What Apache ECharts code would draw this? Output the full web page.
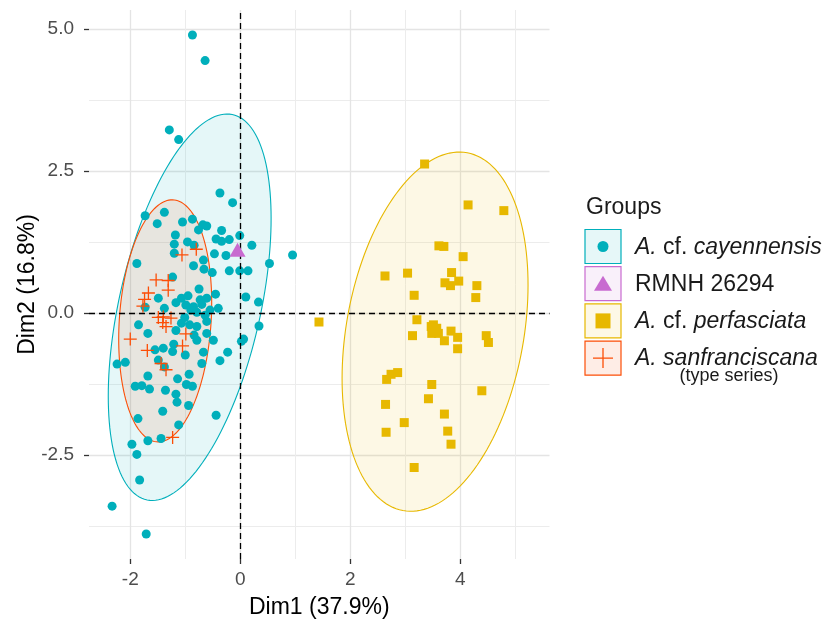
<!DOCTYPE html>
<html><head><meta charset="utf-8">
<script src="https://cdn.jsdelivr.net/npm/echarts@6/dist/echarts.min.js"></script>
<style>html,body{margin:0;padding:0;background:#fff}#chart{width:832px;height:624px}</style>
</head><body><div id="chart"></div>
<script>
// ---------- data ----------
const groupNames = ['A. cf. cayennensis', 'RMNH 26294', 'A. cf. perfasciata', 'A. sanfranciscana'];
const groupLabelsRich = ['{i|A.} cf. {i|cayennensis}', 'RMNH 26294', '{i|A.} cf. {i|perfasciata}', '{i|A. sanfranciscana}'];
const groupColors = ['#00AFBB', '#C86BD0', '#E7B800', '#FC4E07'];
const groupFills = ['#E6F7F8', '#F9F0FA', '#FDF8E6', '#FEEDE6'];

const cayennensis = [
  [-0.87,4.89],[-0.64,4.44],[-1.29,3.22],[-1.12,3.05],[-0.37,2.11],[-0.14,1.94],[-1.73,1.71],[-1.38,1.77],
  [-1.51,1.57],[-1.05,1.60],[-0.87,1.65],[-0.68,1.55],[-0.61,1.53],[-0.34,1.45],[-0.76,1.46],[-1.18,1.37],
  [-0.44,1.30],[-0.34,1.26],[-0.20,1.29],[-0.01,1.36],[-0.96,1.25],[-0.84,1.19],[-1.20,1.21],[0.21,1.19],
  [0.95,1.02],[-0.47,1.04],[-0.26,1.01],[0.53,0.87],[-1.20,1.05],[-1.88,0.87],[-0.85,0.83],[-0.67,0.93],
  [-0.66,0.77],[-0.20,0.74],[-0.01,0.74],[0.14,0.74],[-1.23,0.63],[-0.51,0.71],[-0.75,0.42],[0.10,0.28],
  [0.33,0.19],[-1.49,0.26],[-1.17,0.18],[-1.07,0.26],[-0.99,0.14],[-0.85,0.11],[-0.73,0.23],[-0.61,0.26],
  [-0.45,0.33],[-0.90,0.05],[-0.79,0.01],[-0.64,-0.04],[-0.40,0.08],[-1.38,0.08],[-1.73,0.10],[-1.01,-0.08],
  [-1.07,-0.18],[-0.92,-0.21],[-0.79,-0.24],[-0.61,-0.15],[-1.85,-0.21],[-1.68,-0.36],[-1.17,-0.31],[-0.84,-0.39],
  [-0.61,-0.36],[-0.49,-0.48],[0.02,-0.50],[0.06,-0.46],[0.34,-0.23],[-0.79,-0.48],[-1.21,-0.55],[-1.40,-0.62],
  [-1.55,-0.65],[-1.23,-0.68],[-1.00,-0.74],[-0.67,-0.69],[-0.23,-0.69],[-0.37,-0.84],[-2.24,-0.90],[-2.09,-0.87],
  [-1.49,-0.83],[-1.38,-0.95],[-0.70,-0.89],[-1.68,-1.11],[-1.14,-1.16],[-0.93,-1.08],[-1.91,-1.29],[-1.79,-1.28],
  [-1.65,-1.34],[-1.36,-1.36],[-0.98,-1.26],[-0.87,-1.29],[-1.17,-1.43],[-1.15,-1.57],[-0.94,-1.63],[-1.41,-1.73],
  [-0.44,-1.80],[-1.86,-1.86],[-1.12,-1.97],[-1.68,-2.25],[-1.44,-2.21],[-1.97,-2.31],[-1.88,-2.49],[-1.83,-2.94],
  [-2.33,-3.40],[-1.71,-3.89],[-0.70,0.15],[-0.55,0.05],[-0.95,0.30]
];
const rmnh = [[-0.05,1.11]];
const perfasciata = [
  [3.35,2.62],[4.14,1.90],[4.79,1.80],[3.61,1.18],[3.70,1.17],[4.05,0.99],[2.63,0.65],[3.04,0.70],
  [3.84,0.71],[3.72,0.53],[3.82,0.48],[3.97,0.56],[4.30,0.48],[3.16,0.31],[4.28,0.27],[1.43,-0.16],
  [3.21,-0.12],[3.13,-0.40],[3.47,-0.24],[3.51,-0.21],[3.57,-0.27],[3.48,-0.36],[3.60,-0.36],[3.55,-0.30],
  [3.83,-0.32],[3.95,-0.43],[3.71,-0.49],[3.95,-0.63],[4.47,-0.40],[4.51,-0.52],[2.66,-1.17],[2.74,-1.08],
  [2.86,-1.05],[3.48,-1.26],[4.39,-1.37],[2.64,-1.61],[3.42,-1.51],[2.98,-1.93],[3.71,-1.78],[2.65,-2.10],
  [3.77,-2.08],[3.83,-2.31],[3.16,-2.72]
];
const sanfranciscana = [
  [-1.06,1.02],[-0.80,1.12],[-1.53,0.58],[-1.31,0.57],[-1.31,0.40],[-1.67,0.35],[-1.74,0.24],[-1.77,0.12],
  [-1.49,-0.08],[-1.40,-0.07],[-1.41,-0.17],[-1.35,-0.24],[-1.26,-0.09],[-0.99,-0.37],[-2.00,-0.46],[-1.05,-0.58],
  [-1.69,-0.66],[-1.44,-0.89],[-1.35,-1.00],[-1.23,-2.19]
];

// confidence ellipses (cayennensis, perfasciata, sanfranciscana): centre, x half-extent, y half-extent, correlation
const ellipseGroup = [0, 2, 3];
const ellipseCx = [-0.92, 3.54, -1.365];
const ellipseCy = [0.10, -0.33, -0.14];
const ellipseSx = [1.48, 1.69, 0.845];
const ellipseSy = [3.40, 3.16, 2.13];
const ellipseRho = [0.46, 0.26, 0.15];

const xTicks = [-2, 0, 2, 4];
const xMinor = [-3, -1, 1, 3, 5];
const yTicks = [-2.5, 0, 2.5, 5];
const yMinor = [-3.75, -1.25, 1.25, 3.75];
const xTitle = 'Dim1 (37.9%)';
const yTitle = 'Dim2 (16.8%)';
const legendTitle = 'Groups';
const legendSub = '(type series)';

// ---------- chart ----------
const FONT = '"Liberation Sans", Arial, Helvetica, sans-serif';
const xMin = -2.75, xMax = 5.62, yMin = -4.33, yMax = 5.33;
const crossPath = 'path://M0,5L10,5M5,0L5,10';

const chart = echarts.init(document.getElementById('chart'), null, {renderer: 'canvas'});

function ellipsePoints(i, api) {
  const cx = ellipseCx[i], cy = ellipseCy[i], sx = ellipseSx[i], sy = ellipseSy[i], r = ellipseRho[i];
  const q = Math.sqrt(1 - r * r);
  const pts = [];
  for (let k = 0; k < 160; k++) {
    const t = k / 160 * Math.PI * 2;
    pts.push(api.coord([cx + sx * Math.cos(t), cy + sy * (r * Math.cos(t) + q * Math.sin(t))]));
  }
  return pts;
}

const legendGraphics = [];
const boxX = 585, boxY0 = 229.5, boxW = 36, boxH = 34, pitch = 37.2;
legendGraphics.push({type: 'text', left: 586, top: 196, style: {text: legendTitle, fontSize: 23, fontFamily: FONT, fill: '#1A1A1A'}});
groupNames.forEach((name, i) => {
  const y = boxY0 + i * pitch;
  const cx = boxX + boxW / 2, cy = y + boxH / 2;
  legendGraphics.push({type: 'rect', shape: {x: boxX, y: y, width: boxW, height: boxH},
    style: {fill: groupFills[i], stroke: groupColors[i], lineWidth: 1.2}});
  let sym;
  if (i === 0) sym = {type: 'circle', shape: {cx: cx, cy: cy, r: 5.5}, style: {fill: groupColors[i]}};
  else if (i === 1) sym = {type: 'polygon', shape: {points: [[cx, cy - 8], [cx - 9, cy + 7], [cx + 9, cy + 7]]}, style: {fill: groupColors[i]}};
  else if (i === 2) sym = {type: 'rect', shape: {x: cx - 7.5, y: cy - 7.5, width: 15, height: 15}, style: {fill: groupColors[i]}};
  else sym = {type: 'polyline', shape: {points: [[cx - 10, cy], [cx + 10, cy], [cx, cy], [cx, cy - 10], [cx, cy + 10]]}, style: {stroke: groupColors[i], lineWidth: 1.3, fill: null}};
  legendGraphics.push(sym);
  legendGraphics.push({type: 'text', x: 635, y: cy + 1,
    style: {text: groupLabelsRich[i], fontSize: 23, fontFamily: FONT, fill: '#1A1A1A', verticalAlign: 'middle', align: 'left',
      rich: {i: {fontStyle: 'italic', fontSize: 23, fontFamily: FONT, fill: '#1A1A1A'}}}});
});
legendGraphics.push({type: 'text', x: 729, y: 376, style: {text: legendSub, fontSize: 18, fontFamily: FONT, fill: '#1A1A1A', align: 'center', verticalAlign: 'middle'}});

const hiddenLine = {show: true, onZero: false, lineStyle: {color: 'rgba(0,0,0,0)', width: 0.01}};

const option = {
  backgroundColor: '#ffffff',
  animation: false,
  grid: {left: 89, right: 282.5, top: 10, bottom: 65, containLabel: false},
  xAxis: [
    {type: 'value', min: xMin, max: xMax, position: 'bottom',
      name: xTitle, nameLocation: 'middle', nameGap: 37, nameMoveOverlap: false,
      nameTextStyle: {fontSize: 23, fontFamily: FONT, color: '#000'},
      axisLine: hiddenLine,
      axisTick: {show: true, inside: false, length: 5, customValues: xTicks, lineStyle: {color: '#333', width: 1.3}},
      axisLabel: {show: true, customValues: xTicks, margin: 11, fontSize: 19, fontFamily: FONT, color: '#4D4D4D', formatter: v => String(v)},
      splitLine: {show: true, lineStyle: {color: '#E4E4E4', width: 1.3}}
    },
    {type: 'value', min: xMin, max: xMax, position: 'top',
      axisLine: {show: false}, axisTick: {show: false, customValues: xMinor}, axisLabel: {show: false, customValues: xMinor},
      splitLine: {show: true, lineStyle: {color: '#ECECEC', width: 1}}
    }
  ],
  yAxis: [
    {type: 'value', min: yMin, max: yMax, position: 'left',
      name: yTitle, nameLocation: 'middle', nameGap: 50, nameRotate: 90, nameMoveOverlap: false,
      nameTextStyle: {fontSize: 23, fontFamily: FONT, color: '#000'},
      axisLine: hiddenLine,
      axisTick: {show: true, inside: false, length: 5, customValues: yTicks, lineStyle: {color: '#333', width: 1.3}},
      axisLabel: {show: true, customValues: yTicks, margin: 15, fontSize: 19, fontFamily: FONT, color: '#4D4D4D', formatter: v => v.toFixed(1)},
      splitLine: {show: true, lineStyle: {color: '#E4E4E4', width: 1.3}}
    },
    {type: 'value', min: yMin, max: yMax, position: 'right',
      axisLine: {show: false}, axisTick: {show: false, customValues: yMinor}, axisLabel: {show: false, customValues: yMinor},
      splitLine: {show: true, lineStyle: {color: '#ECECEC', width: 1}}
    }
  ],
  series: [
    {type: 'custom', name: 'ellipses', xAxisIndex: 0, yAxisIndex: 0, z: 1, silent: true,
      data: ellipseCx.map((c, i) => [c, ellipseCy[i]]),
      renderItem: function (params, api) {
        const pts = ellipsePoints(params.dataIndex, api);
        const col = groupColors[ellipseGroup[params.dataIndex]];
        return {type: 'group', children: [
          {type: 'polygon', shape: {points: pts}, style: {fill: col, opacity: 0.1}},
          {type: 'polygon', shape: {points: pts}, style: {fill: 'none', stroke: col, lineWidth: 1.1}}
        ]};
      }
    },
    {type: 'scatter', name: groupNames[0], data: cayennensis, symbol: 'circle', symbolSize: 9, z: 3,
      itemStyle: {color: groupColors[0], opacity: 1},
      markLine: {silent: true, symbol: ['none', 'none'], label: {show: false},
        lineStyle: {color: '#000', type: [6, 4], width: 1.3},
        data: [{xAxis: 0}, {yAxis: 0}]}
    },
    {type: 'scatter', name: groupNames[2], data: perfasciata, symbol: 'rect', symbolSize: 9, z: 3,
      itemStyle: {color: groupColors[2], opacity: 1}},
    {type: 'scatter', name: groupNames[3], data: sanfranciscana, symbol: crossPath, symbolSize: 13, z: 4,
      itemStyle: {color: 'none', borderColor: groupColors[3], borderWidth: 1.3, opacity: 1}},
    {type: 'scatter', name: groupNames[1], data: rmnh, symbol: 'triangle', symbolSize: [16, 14], z: 5,
      itemStyle: {color: groupColors[1], opacity: 1}}
  ],
  graphic: legendGraphics
};
chart.setOption(option);
</script>
</body></html>
